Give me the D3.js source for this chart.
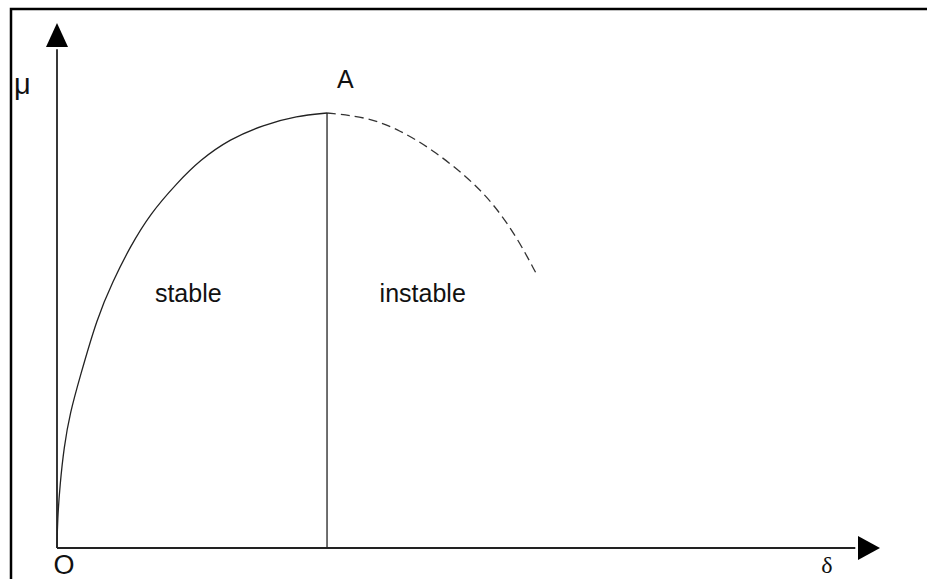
<!DOCTYPE html>
<html lang="en">
<head>
	<meta charset="utf-8">
	<title>Stability curve</title>
	<script src="https://d3js.org/d3.v7.min.js"></script>
	<style>
	body { margin: 0; background: #fff; }
	svg text { font-family: "Liberation Sans", Arial, sans-serif; fill: #111; }
	</style>
</head>
<body>
	<div id="chart"></div>
	<script>
		// curve points in chart units (delta, mu)
		let stableData = [
			{x: 0, y: 0}, {x: 0.06, y: 5.33}, {x: 0.36, y: 12.0}, {x: 0.85, y: 19.24},
			{x: 1.58, y: 25.71}, {x: 2.79, y: 32.57}, {x: 4.86, y: 43.81}, {x: 6.8, y: 50.86},
			{x: 8.87, y: 57.33}, {x: 11.3, y: 63.62}, {x: 14.58, y: 69.52}, {x: 17.38, y: 73.9},
			{x: 21.02, y: 77.9}, {x: 25.03, y: 80.57}, {x: 29.16, y: 82.29}, {x: 32.81, y: 82.86}
		];
		let unstableData = [
			{x: 32.81, y: 82.86}, {x: 37.67, y: 82.1}, {x: 41.68, y: 79.6}, {x: 45.69, y: 75.8},
			{x: 49.82, y: 70.7}, {x: 52.98, y: 65.7}, {x: 55.89, y: 59.2}, {x: 58.32, y: 52.0}
		];
		let peak = {x: 32.81, y: 82.86};
		let regionLabels = [
			{text: "stable", x: 11.9, y: 46.9},
			{text: "instable", x: 39.2, y: 46.9}
		];

		let width = 927;
		let height = 579;

		// axis origin at (57,548), arrow tips at x=880 and y=23
		let x = d3.scaleLinear().domain([0, 100]).range([57, 880]);
		let y = d3.scaleLinear().domain([0, 100]).range([548, 23]);

		let svg = d3.select("#chart")
					.append("svg")
					.attr("width", width)
					.attr("height", height);

		svg.append("rect")
			.attr("width", width)
			.attr("height", height)
			.attr("fill", "#fff");

		// frame (runs off right and bottom edges)
		svg.append("path")
			.attr("d", "M11," + (height + 5) + " V9 H" + (width + 5))
			.attr("fill", "none")
			.attr("stroke", "#000")
			.attr("stroke-width", 2.5);

		// axes
		svg.append("line")
			.attr("x1", x(0)).attr("y1", y(0))
			.attr("x2", x(0)).attr("y2", y(95))
			.attr("stroke", "#222")
			.attr("stroke-width", 1.8);
		svg.append("line")
			.attr("x1", x(0)).attr("y1", y(0))
			.attr("x2", x(97)).attr("y2", y(0))
			.attr("stroke", "#222")
			.attr("stroke-width", 1.8);
		// arrow heads
		svg.append("path")
			.attr("d", "M" + x(0) + "," + y(100) + " L" + (x(0) - 11) + "," + (y(100) + 24) + " L" + (x(0) + 11) + "," + (y(100) + 24) + " Z")
			.attr("fill", "#000");
		svg.append("path")
			.attr("d", "M" + x(100) + "," + y(0) + " L" + (x(100) - 22) + "," + (y(0) - 12) + " L" + (x(100) - 22) + "," + (y(0) + 12) + " Z")
			.attr("fill", "#000");

		let line = d3.line()
					.x(function(d) { return x(d.x) })
					.y(function(d) { return y(d.y) })
					.curve(d3.curveBasis);

		svg.append("path")
			.datum(stableData)
			.attr("fill", "none")
			.attr("stroke", "#222")
			.attr("stroke-width", 1.3)
			.attr("d", line);

		svg.append("path")
			.datum(unstableData)
			.attr("fill", "none")
			.attr("stroke", "#333")
			.attr("stroke-width", 1.3)
			.attr("stroke-dasharray", "9,5")
			.attr("d", line);

		// vertical line under A
		svg.append("line")
			.attr("x1", x(peak.x)).attr("y1", y(peak.y))
			.attr("x2", x(peak.x)).attr("y2", y(0))
			.attr("stroke", "#222")
			.attr("stroke-width", 1.3);

		// labels
		svg.append("text")
			.attr("x", 14).attr("y", 94)
			.style("font-size", "29px")
			.text("μ");
		svg.append("text")
			.attr("x", x(peak.x) + 10).attr("y", y(peak.y) - 25)
			.style("font-size", "25px")
			.text("A");
		svg.selectAll("text.region")
			.data(regionLabels)
			.enter()
			.append("text")
			.attr("class", "region")
			.attr("x", function(d) { return x(d.x) })
			.attr("y", function(d) { return y(d.y) })
			.style("font-size", "25px")
			.text(function(d) { return d.text });
		svg.append("text")
			.attr("x", 64).attr("y", 574)
			.attr("text-anchor", "middle")
			.style("font-size", "27px")
			.text("O");
		svg.append("text")
			.attr("x", 827).attr("y", 573)
			.attr("text-anchor", "middle")
			.style("font-family", "'Liberation Serif', 'Times New Roman', serif")
			.style("font-size", "24px")
			.text("δ");
	</script>
</body>
</html>
